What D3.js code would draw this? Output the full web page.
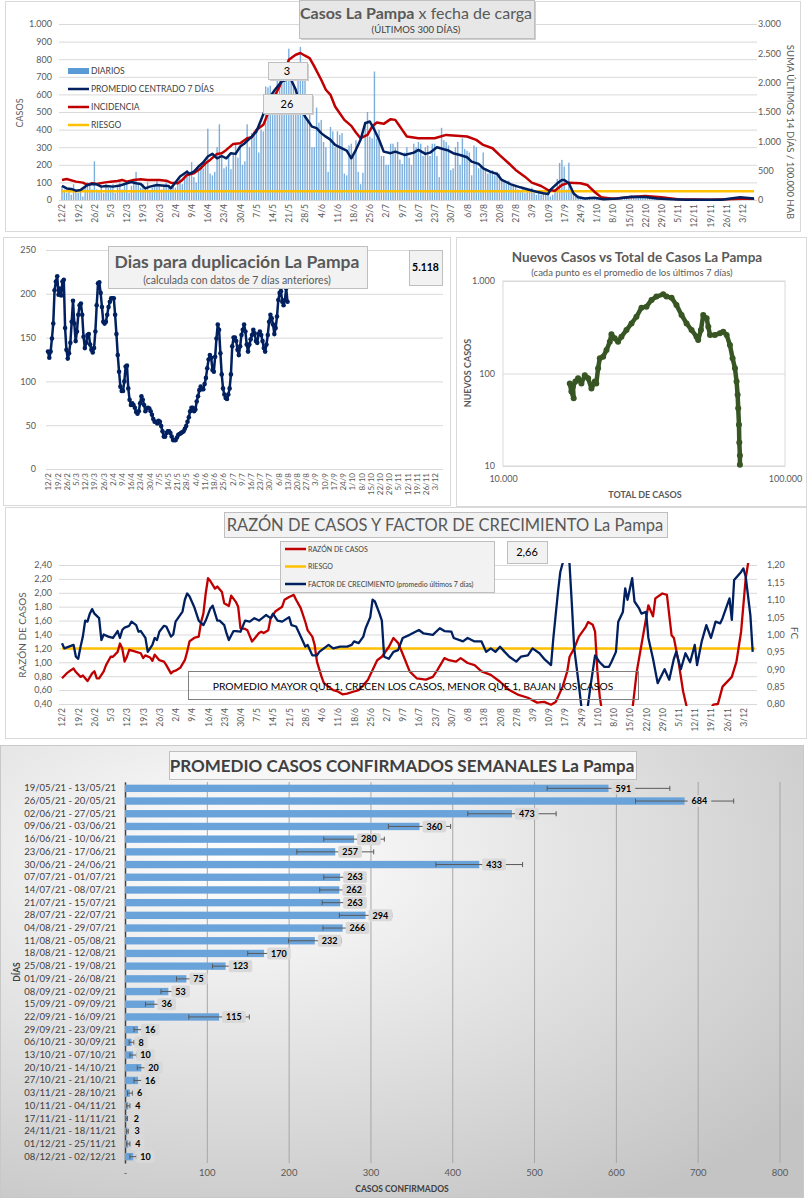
<!DOCTYPE html>
<html>
<head>
<meta charset="utf-8">
<script src="https://cdn.jsdelivr.net/npm/d3@7"></script>
<style>
body { margin: 0; background: #fff; }
svg { display: block; font-family: Lato, "Open Sans", sans-serif; }
</style>
</head>
<body>
<svg id="c"></svg>
<script>
// ---- datos compartidos ----
const ticksFecha = ["12/2","19/2","26/2","5/3","12/3","19/3","26/3","2/4","9/4","16/4","23/4","30/4","7/5","14/5","21/5","28/5","4/6","11/6","18/6","25/6","2/7","9/7","16/7","23/7","30/7","6/8","13/8","20/8","27/8","3/9","10/9","17/9","24/9","1/10","8/10","15/10","22/10","29/10","5/11","12/11","19/11","26/11","3/12"];

// casos diarios desde 12/2 (300 dias)
const diarios = [
  80,60,40,70,30,90,50, 40,60,20,70,100,80,60, 220,60,50,80,40,90,70, 70,90,40,80,100,60,90,
  110,40,80,120,160,90,70, 90,60,100,50,70,80,110, 90,60,80,100,70,50,80, 70,100,120,90,140,170,160,
  215,130,100,170,200,180,210, 405,150,140,160,300,430,250, 180,190,250,175,260,320,240, 300,200,220,430,300,380,390,
  390,270,400,390,645,640,650, 600,560,680,700,720,680,700, 860,740,650,600,770,870,700, 690,460,520,300,300,525,440,
  455,330,300,160,415,390,300, 390,370,380,150,140,310,320, 270,340,160,90,155,445,500, 360,350,730,350,400,250,250,
  200,200,320,320,300,330,230, 205,270,300,240,200,320,300, 330,320,250,300,310,250,320, 320,250,130,410,340,330,310,
  170,180,300,330,200,350,290, 280,270,140,310,300,180,200, 270,180,150,160,170,140,160, 150,110,100,90,110,80,80,
  80,60,50,70,40,50,60, 70,40,30,50,30,40,30, 40,20,30,60,120,210,228, 190,60,212,50,40,20,30,
  20,15,10,15,20,10,8, 10,5,8,6,10,12,4, 8,10,5,12,15,10,20, 20,25,15,20,18,22,20,
  18,15,20,12,16,10,8, 6,5,8,4,6,5,3, 4,3,5,2,4,3,2, 2,1,3,2,3,2,4,
  3,4,2,3,5,4,3, 4,6,5,4,8,6,10, 12,10,8,15,10,8
];

// [dia desde 12/2, casos] promedio centrado 7 dias
const promedio7 = [[0,80],[2,66],[4,63],[6,53],[8,57],[9,66],[11,85],[13,91],[15,89],[17,76],[19,80],[22,76],[25,82],[28,95],[30,102],[32,95],[34,91],[36,66],[38,76],[41,85],[43,83],[46,80],[47,66],[49,99],[51,133],[54,161],[55,148],[57,161],[59,190],[61,213],[63,247],[65,262],[67,237],[69,250],[71,237],[73,266],[75,262],[77,304],[79,323],[82,360],[84,389],[86,455],[88,522],[90,588],[92,626],[95,674],[97,683],[99,683],[101,626],[103,531],[105,474],[108,417],[110,408],[112,380],[114,360],[116,342],[118,313],[121,294],[123,281],[125,237],[127,285],[129,342],[131,436],[133,446],[135,398],[137,342],[139,275],[142,266],[144,275],[148,256],[152,269],[154,285],[157,262],[159,269],[162,300],[165,288],[167,281],[169,266],[172,256],[175,243],[177,218],[180,205],[182,180],[185,161],[188,148],[190,114],[194,89],[198,72],[201,61],[205,47],[208,38],[210,34],[211,57],[214,95],[216,114],[217,114],[219,95],[221,38],[223,15],[226,9],[230,13],[234,4],[240,8],[246,19],[252,17],[257,9],[263,4],[270,2],[278,1],[285,2],[289,9],[293,15],[299,8]];

// [dia, suma 14 dias / 100.000 hab]
const incidencia = [[0,342],[2,359],[6,313],[9,296],[11,256],[13,285],[15,273],[18,296],[21,313],[24,325],[26,342],[28,313],[31,342],[34,353],[37,342],[40,342],[42,342],[45,330],[47,296],[50,285],[52,342],[54,427],[57,455],[60,541],[62,626],[64,683],[67,786],[69,797],[71,854],[74,956],[77,968],[80,1053],[82,1070],[84,1195],[87,1281],[89,1480],[91,1708],[94,1935],[96,2163],[98,2391],[101,2476],[103,2505],[105,2459],[107,2419],[109,2277],[112,2049],[114,1879],[116,1793],[118,1594],[120,1480],[122,1366],[125,1264],[127,1150],[129,1053],[132,1110],[134,1252],[136,1321],[139,1298],[142,1378],[144,1366],[146,1252],[147,1195],[149,1082],[154,1053],[161,1053],[166,1110],[175,1082],[179,1025],[182,939],[186,882],[189,768],[193,626],[196,512],[200,398],[203,296],[207,239],[210,171],[213,159],[216,256],[219,296],[224,285],[227,256],[230,142],[233,46],[238,23],[245,46],[252,68],[259,46],[266,11],[273,8],[280,6],[287,11],[294,23],[299,23]];
const riesgoIncidencia = 150;

// dias para duplicacion, diario desde 12/2
const duplicacion = [134,127,134,149,166,204,214,220,199,206,198,214,216,161,136,126,132,144,168,192,166,146,157,176,187,189,176,151,138,144,153,154,142,136,133,138,157,187,212,213,201,185,168,166,168,176,185,191,195,195,195,176,154,130,111,94,89,89,100,117,118,92,79,73,75,73,70,65,63,66,75,83,79,73,66,69,70,69,66,62,57,54,54,52,55,54,49,43,37,37,41,43,43,41,37,33,33,33,36,39,40,41,42,43,46,49,54,59,66,70,70,66,68,77,83,90,94,91,91,97,104,115,125,130,127,113,111,128,149,165,159,132,108,92,85,81,80,85,92,108,140,150,150,146,136,130,140,153,159,165,157,142,134,142,148,153,159,155,146,144,154,157,153,146,138,134,142,153,168,176,172,165,154,161,174,193,201,203,191,187,193,206,191];

// [total de casos, nuevos casos (promedio 7 dias)]
const nuevosVsTotal = [[17250,78],[17480,64],[17810,54],[17700,72],[18060,82],[18460,89],[18970,78],[19500,96],[20040,89],[20590,69],[21160,82],[21420,78],[21740,114],[22040,146],[22650,152],[23280,179],[23920,220],[24240,265],[24900,240],[25590,220],[26300,250],[27400,295],[28550,348],[29730,411],[30980,515],[32270,528],[33630,624],[35000,678],[36980,718],[38000,678],[39600,661],[41220,550],[42970,429],[44770,348],[46640,295],[48560,250],[49220,230],[50330,295],[51290,429],[52730,395],[53460,321],[54200,261],[56430,261],[58750,272],[60390,283],[62090,261],[63780,203],[65180,146],[66460,114],[67330,82],[67920,59],[68250,42],[68670,28],[68860,18],[69200,13],[69200,10.3]];

// razon de casos [dia, razon]
const razonCasos = [[0,0.77],[2,0.84],[4,0.89],[5,0.91],[6,0.86],[8,0.79],[9,0.81],[10,0.77],[11,0.73],[13,0.84],[14,0.87],[15,0.77],[16,0.77],[18,0.87],[19,0.96],[21,1.08],[22,1.08],[24,1.15],[25,1.27],[26,1.20],[27,1.01],[28,1.08],[29,1.18],[31,1.16],[32,1.15],[34,1.13],[35,1.06],[36,1.10],[38,1.07],[39,1.02],[40,1.11],[42,1.03],[44,1.01],[45,0.96],[47,0.84],[48,0.87],[49,0.88],[51,0.92],[53,1.03],[54,1.15],[55,1.30],[57,1.35],[59,1.37],[60,1.58],[61,1.70],[62,1.99],[63,2.21],[64,2.17],[66,2.06],[67,2.09],[69,2.01],[70,1.85],[72,1.81],[73,1.96],[75,1.87],[76,1.80],[77,1.49],[79,1.48],[80,1.46],[82,1.30],[83,1.34],[85,1.42],[86,1.44],[87,1.42],[89,1.46],[90,1.63],[92,1.73],[95,1.80],[96,1.90],[98,1.94],[100,1.97],[101,1.90],[103,1.78],[105,1.58],[106,1.46],[108,1.37],[109,1.25],[110,1.01],[112,0.79],[113,0.70],[115,0.65],[117,0.60],[119,0.58],[121,0.54],[123,0.55],[126,0.58],[128,0.60],[130,0.67],[132,0.75],[134,0.89],[136,1.03],[138,1.08],[141,1.22],[143,1.35],[145,1.28],[147,1.12],[150,0.87],[153,0.77],[157,0.75],[160,0.79],[162,0.89],[165,1.06],[167,1.03],[170,1.01],[172,1.06],[175,0.99],[178,0.96],[181,0.87],[185,0.82],[189,0.72],[193,0.60],[197,0.53],[201,0.49],[205,0.42],[208,0.43],[211,0.39],[213,0.43],[216,0.65],[218,0.87],[219,1.08],[221,1.20],[223,1.37],[226,1.51],[227,1.58],[229,1.54],[230,1.44],[231,0.87],[232,0.51],[233,0.29],[240,0.10],[246,0.29],[248,0.87],[250,1.25],[252,1.63],[253,1.82],[255,1.66],[256,1.92],[259,1.99],[261,1.97],[263,1.39],[264,1.35],[266,1.01],[268,0.58],[270,0.29],[275,0.10],[281,0.39],[283,0.40],[285,0.65],[289,0.79],[291,1.01],[293,1.44],[295,2.21],[296,2.42],[298,2.66]];
const riesgoRazon = 1.2;

// factor de crecimiento (promedio ultimos 7 dias) [dia, fc]
const factorCrec = [[0,0.975],[1,0.96],[3,0.965],[5,0.97],[6,0.936],[7,0.93],[8,0.965],[9,0.994],[10,1.04],[11,1.037],[12,1.06],[13,1.073],[14,1.06],[16,1.047],[17,0.984],[18,1.0],[20,0.994],[22,0.99],[24,1.01],[25,0.99],[26,1.013],[27,1.02],[29,1.025],[30,1.037],[32,1.027],[33,1.008],[34,1.01],[36,0.99],[37,0.95],[39,0.97],[40,0.99],[41,0.984],[42,1.008],[44,1.025],[45,1.023],[47,0.994],[48,1.0],[49,1.037],[52,1.066],[53,1.10],[54,1.118],[55,1.11],[57,1.08],[59,1.04],[61,1.027],[62,1.04],[64,1.075],[65,1.083],[67,1.04],[68,1.04],[70,1.027],[71,1.003],[72,0.984],[74,1.01],[75,1.01],[77,1.008],[79,1.04],[81,1.037],[83,1.047],[85,1.04],[88,1.056],[90,1.047],[91,1.06],[93,1.04],[95,1.037],[98,1.05],[99,1.027],[101,1.023],[103,0.994],[105,0.965],[106,0.97],[108,0.94],[110,0.94],[111,0.95],[113,0.96],[115,0.97],[117,0.96],[120,0.965],[123,0.965],[125,0.97],[126,0.98],[128,0.975],[130,0.994],[131,1.018],[133,1.05],[134,1.10],[135,1.095],[137,1.06],[138,1.04],[139,0.936],[141,0.93],[143,0.95],[145,0.955],[147,0.99],[150,0.999],[154,1.013],[156,1.003],[160,0.999],[163,1.018],[165,1.01],[168,1.008],[169,0.99],[173,0.98],[175,0.99],[178,0.98],[181,0.98],[183,0.95],[185,0.96],[187,0.95],[189,0.965],[191,0.95],[193,0.936],[196,0.922],[198,0.936],[201,0.94],[203,0.96],[206,0.946],[208,0.93],[211,0.912],[212,0.99],[214,1.123],[215,1.18],[216,1.205],[218,1.30],[219,1.20],[220,1.085],[221,0.96],[223,0.855],[224,0.797],[225,0.75],[226,0.75],[228,0.85],[230,0.94],[232,0.92],[234,0.907],[236,0.907],[237,0.92],[239,0.95],[240,1.037],[242,1.065],[243,1.133],[244,1.10],[246,1.162],[247,1.095],[249,1.075],[250,1.06],[252,1.065],[253,0.99],[255,0.93],[257,0.86],[260,0.90],[262,0.87],[264,0.93],[265,0.95],[267,0.90],[269,0.946],[271,0.92],[273,0.97],[274,0.912],[276,0.98],[278,1.027],[280,0.99],[282,1.037],[284,1.032],[285,1.047],[288,1.104],[289,1.042],[290,1.157],[293,1.18],[294,1.19],[295,1.166],[297,1.056],[298,0.95]];

// promedio semanal
const semanas = ["19/05/21 - 13/05/21","26/05/21 - 20/05/21","02/06/21 - 27/05/21","09/06/21 - 03/06/21","16/06/21 - 10/06/21","23/06/21 - 17/06/21","30/06/21 - 24/06/21","07/07/21 - 01/07/21","14/07/21 - 08/07/21","21/07/21 - 15/07/21","28/07/21 - 22/07/21","04/08/21 - 29/07/21","11/08/21 - 05/08/21","18/08/21 - 12/08/21","25/08/21 - 19/08/21","01/09/21 - 26/08/21","08/09/21 - 02/09/21","15/09/21 - 09/09/21","22/09/21 - 16/09/21","29/09/21 - 23/09/21","06/10/21 - 30/09/21","13/10/21 - 07/10/21","20/10/21 - 14/10/21","27/10/21 - 21/10/21","03/11/21 - 28/10/21","10/11/21 - 04/11/21","17/11/21 - 11/11/21","24/11/21 - 18/11/21","01/12/21 - 25/11/21","08/12/21 - 02/12/21"];
const promSemanal = [591,684,473,360,280,257,433,263,262,263,294,266,232,170,123,75,53,36,115,16,8,10,20,16,6,4,2,3,4,10];
const errSemanal = [75,60,54,38,37,47,53,20,24,22,32,24,32,20,16,12,9,11,37,5,3,4,5,5,3,2,1,1,2,4];

// ---- utilidades ----
const loc = d3.formatLocale({decimal: ",", thousands: ".", grouping: [3], currency: ["$", ""]});
const fMil = loc.format(",d");
const fDec = loc.format(".2f");
const inicio = new Date(2021, 1, 12);
const fechas = d3.timeDay.range(inicio, new Date(2021, 11, 9)); // 300 dias
const fechaTick = s => { const [d, m] = s.split("/").map(Number); return new Date(2021, m - 1, d); };
const tickDates = ticksFecha.map(fechaTick);
const gris = "#595959";
const NAVY = "#002060", ROJO = "#c00000", ORO = "#ffc000";
const ultimo = fechas[fechas.length - 1];

const svg = d3.select("#c").attr("width", 808).attr("height", 1200);

function marco(x, y, w, h) {
  svg.append("rect").attr("x", x + 0.5).attr("y", y + 0.5).attr("width", w).attr("height", h)
     .attr("fill", "#fff").attr("stroke", "#d9d9d9");
}
function caja(g, x, y, w, h, fill, sombra) {
  if (sombra) g.append("rect").attr("x", x + 2).attr("y", y + 2).attr("width", w).attr("height", h).attr("fill", "#cfcfcf");
  g.append("rect").attr("x", x + 0.5).attr("y", y + 0.5).attr("width", w).attr("height", h)
   .attr("fill", fill).attr("stroke", "#bfbfbf");
}
function texto(g, x, y, s, size, opts = {}) {
  return g.append("text").attr("x", x).attr("y", y).text(s)
    .attr("font-size", size).attr("fill", opts.color || gris)
    .attr("font-weight", opts.bold ? "bold" : null)
    .attr("text-anchor", opts.anchor || "middle");
}
function textoRot(g, x, y, s, size, ang, opts = {}) {
  return g.append("text").attr("transform", `translate(${x},${y}) rotate(${ang})`)
    .attr("text-anchor", "middle").attr("dy", "0.35em").text(s)
    .attr("font-size", size).attr("fill", opts.color || gris)
    .attr("font-weight", opts.bold ? "bold" : null);
}
function ejeFechas(g, x, y, size) {
  const ax = g.append("g").attr("transform", `translate(0,${y})`)
    .call(d3.axisBottom(x).tickValues(tickDates).tickFormat((d, i) => ticksFecha[i]).tickSize(0));
  ax.select(".domain").remove();
  ax.selectAll("text").attr("transform", "rotate(-90)").attr("text-anchor", "end")
    .attr("x", -4).attr("y", 0).attr("dy", "0.35em")
    .attr("font-size", size).attr("fill", gris).attr("font-family", "Lato, sans-serif");
}
function ejeY(g, axis, x, size) {
  const ax = g.append("g").attr("transform", `translate(${x},0)`).call(axis);
  ax.select(".domain").remove();
  ax.selectAll("line").attr("stroke", "#d9d9d9");
  ax.selectAll("text").attr("font-size", size).attr("fill", gris).attr("font-family", "Lato, sans-serif");
  return ax;
}

// ================= 1. Casos La Pampa x fecha de carga =================
marco(5, 1, 795, 230);
const g1 = svg.append("g");
const x1 = d3.scaleTime().domain([fechas[0], ultimo]).range([62, 754]);
const y1 = d3.scaleLinear().domain([0, 1000]).range([200, 24]);
const y1r = d3.scaleLinear().domain([0, 3000]).range([200, 24]);
ejeY(g1, d3.axisLeft(y1).tickValues(d3.range(0, 1001, 100)).tickFormat(fMil).tickSize(-698).tickPadding(7), 59, 9);
ejeY(g1, d3.axisRight(y1r).tickValues(d3.range(0, 3001, 500)).tickFormat(fMil).tickSize(0).tickPadding(3), 755, 9);
ejeFechas(g1, x1, 200, 8.5);

g1.append("g").selectAll("rect").data(diarios).join("rect")
  .attr("x", (d, i) => x1(fechas[i]) - 0.7).attr("width", 1.4)
  .attr("y", d => y1(d)).attr("height", d => y1(0) - y1(d))
  .attr("fill", "#5b9bd5").attr("opacity", 0.8);

g1.append("line").attr("x1", x1(fechas[0])).attr("x2", x1(ultimo))
  .attr("y1", y1r(riesgoIncidencia)).attr("y2", y1r(riesgoIncidencia))
  .attr("stroke", ORO).attr("stroke-width", 2.5);
g1.append("path").datum(incidencia)
  .attr("d", d3.line().x(d => x1(fechas[d[0]])).y(d => y1r(d[1])))
  .attr("fill", "none").attr("stroke", ROJO).attr("stroke-width", 2.5).attr("stroke-linejoin", "round");
g1.append("path").datum(promedio7)
  .attr("d", d3.line().x(d => x1(fechas[d[0]])).y(d => y1(d[1])))
  .attr("fill", "none").attr("stroke", NAVY).attr("stroke-width", 2.5).attr("stroke-linejoin", "round");

// leyenda
const ley1 = [["DIARIOS", "bar"], ["PROMEDIO CENTRADO 7 DÍAS", NAVY], ["INCIDENCIA", ROJO], ["RIESGO", ORO]];
ley1.forEach((l, i) => {
  const yy = 71 + i * 18;
  if (l[1] === "bar") g1.append("rect").attr("x", 68).attr("y", yy - 3).attr("width", 21).attr("height", 6).attr("fill", "#5b9bd5");
  else g1.append("line").attr("x1", 68).attr("x2", 89).attr("y1", yy).attr("y2", yy).attr("stroke", l[1]).attr("stroke-width", 2.5);
  texto(g1, 91, yy + 3, l[0], 8.5, {anchor: "start", color: "#404040"});
});
caja(g1, 268, 62, 39, 17, "#f2f2f2", true);
texto(g1, 287, 75, "3", 11, {color: "#000"});
caja(g1, 263, 94, 49, 19, "#f2f2f2", true);
texto(g1, 287, 108, "26", 11, {color: "#000"});

caja(g1, 299, 0, 235, 38, "#e7e7e7", true);
const t1 = texto(g1, 416, 19, "", 16);
t1.append("tspan").attr("font-weight", "bold").text("Casos La Pampa");
t1.append("tspan").text(" x fecha de carga");
texto(g1, 416, 33, "(ÚLTIMOS 300 DÍAS)", 9.5, {color: "#404040"});
textoRot(g1, 20, 113, "CASOS", 9, -90);
textoRot(g1, 790, 132, "SUMA ÚLTIMOS 14 DÍAS / 100.000 HAB", 9.5, 90);

// ================= 2. Dias para duplicacion =================
marco(3, 237, 447, 268);
const g2 = svg.append("g");
const x2 = d3.scaleTime().domain([fechas[0], ultimo]).range([48, 441.5]);
const y2 = d3.scaleLinear().domain([0, 250]).range([469, 250]);
ejeY(g2, d3.axisLeft(y2).tickValues(d3.range(0, 251, 50)).tickSize(-397).tickPadding(10), 46, 9);
ejeFechas(g2, x2, 469, 8);
const linea2 = d3.line().x((d, i) => x2(fechas[i])).y(d => y2(d));
g2.append("path").datum(duplicacion).attr("d", linea2)
  .attr("fill", "none").attr("stroke", NAVY).attr("stroke-width", 2.5).attr("stroke-linejoin", "round");
g2.append("g").selectAll("circle").data(duplicacion).join("circle")
  .attr("cx", (d, i) => x2(fechas[i])).attr("cy", d => y2(d)).attr("r", 2.3).attr("fill", NAVY);
caja(g2, 108, 246, 259, 42, "#f2f2f2", false);
texto(g2, 237, 268, "Dias para duplicación La Pampa", 17.5, {bold: true});
texto(g2, 237, 284, "(calculada con datos de 7 días anteriores)", 10.5);
caja(g2, 409, 250, 33, 35, "#f2f2f2", false);
texto(g2, 425.5, 271, "5.118", 10.5, {bold: true, color: "#000"});

// ================= 3. Nuevos casos vs total =================
marco(456, 237, 350, 269);
const g3 = svg.append("g");
const x3 = d3.scaleLog().domain([10000, 100000]).range([503, 785]);
const y3 = d3.scaleLog().domain([10, 1000]).range([466, 281]);
g3.append("rect").attr("x", 503).attr("y", 281).attr("width", 282).attr("height", 185)
  .attr("fill", "none").attr("stroke", "#d9d9d9");
ejeY(g3, d3.axisLeft(y3).tickValues([10, 100, 1000]).tickFormat(fMil).tickSize(-282).tickPadding(8), 503, 9);
const ax3 = g3.append("g").attr("transform", "translate(0,466)")
  .call(d3.axisBottom(x3).tickValues([10000, 100000]).tickFormat(fMil).tickSize(0).tickPadding(10));
ax3.select(".domain").remove();
ax3.selectAll("text").attr("font-size", 9).attr("fill", gris).attr("font-family", "Lato, sans-serif");
g3.append("path").datum(nuevosVsTotal)
  .attr("d", d3.line().x(d => x3(d[0])).y(d => y3(d[1])))
  .attr("fill", "none").attr("stroke", "#375623").attr("stroke-width", 4.5).attr("stroke-linejoin", "round");
g3.append("g").selectAll("circle").data(nuevosVsTotal).join("circle")
  .attr("cx", d => x3(d[0])).attr("cy", d => y3(d[1])).attr("r", 3).attr("fill", "#375623");
texto(g3, 637, 262, "Nuevos Casos vs Total de Casos La Pampa", 13.5, {bold: true});
texto(g3, 632, 276, "(cada punto es el promedio de los últimos 7 días)", 9.5);
texto(g3, 645, 498, "TOTAL DE CASOS", 9, {bold: true});
textoRot(g3, 468, 373, "NUEVOS CASOS", 9, -90, {bold: true});

// ================= 4. Razon de casos y factor de crecimiento =================
marco(5, 507, 801, 231);
const g4 = svg.append("g");
const x4 = d3.scaleTime().domain([fechas[0], ultimo]).range([62, 755]);
const y4 = d3.scaleLinear().domain([0.4, 2.4]).range([704, 565]);
const y4r = d3.scaleLinear().domain([0.8, 1.2]).range([704, 565]);
ejeY(g4, d3.axisLeft(y4).tickValues(d3.range(0.4, 2.41, 0.2)).tickFormat(fDec).tickSize(-698).tickPadding(7), 59, 9);
ejeY(g4, d3.axisRight(y4r).tickValues(d3.range(0.8, 1.201, 0.05)).tickFormat(fDec).tickSize(0).tickPadding(10), 757, 9);
ejeFechas(g4, x4, 704, 8.5);
svg.append("clipPath").attr("id", "clip4").append("rect").attr("x", 55).attr("y", 563).attr("width", 706).attr("height", 143);
const area4 = g4.append("g").attr("clip-path", "url(#clip4)");
area4.append("line").attr("x1", x4(fechas[0])).attr("x2", x4(ultimo))
  .attr("y1", y4(riesgoRazon)).attr("y2", y4(riesgoRazon)).attr("stroke", ORO).attr("stroke-width", 2.5);
area4.append("path").datum(razonCasos)
  .attr("d", d3.line().x(d => x4(fechas[d[0]])).y(d => y4(d[1])))
  .attr("fill", "none").attr("stroke", ROJO).attr("stroke-width", 2.3).attr("stroke-linejoin", "round");
area4.append("path").datum(factorCrec)
  .attr("d", d3.line().x(d => x4(fechas[d[0]])).y(d => y4r(d[1])))
  .attr("fill", "none").attr("stroke", NAVY).attr("stroke-width", 2.3).attr("stroke-linejoin", "round");

caja(g4, 224, 512, 443, 25, "#f2f2f2", false);
texto(g4, 445, 531, "RAZÓN DE CASOS Y FACTOR DE CRECIMIENTO La Pampa", 16.5);
caja(g4, 280, 541, 214, 51, "#f2f2f2", false);
[["RAZÓN DE CASOS", ROJO], ["RIESGO", ORO], ["FACTOR DE CRECIMIENTO (promedio últimos 7 días)", NAVY]].forEach((l, i) => {
  const yy = 549 + i * 17.5;
  g4.append("line").attr("x1", 285).attr("x2", 306).attr("y1", yy).attr("y2", yy).attr("stroke", l[1]).attr("stroke-width", 2.5);
  texto(g4, 308, yy + 2.5, l[0], 7, {anchor: "start", color: "#404040"});
});
caja(g4, 507, 541, 40, 22, "#f2f2f2", false);
texto(g4, 527, 556, "2,66", 11, {color: "#000"});
g4.append("rect").attr("x", 188.5).attr("y", 671.5).attr("width", 450).attr("height", 28)
  .attr("fill", "none").attr("stroke", "#7f7f7f");
texto(g4, 413, 689.5, "PROMEDIO MAYOR QUE 1, CRECEN LOS CASOS, MENOR QUE 1, BAJAN LOS CASOS", 10.3, {color: "#000"});
textoRot(g4, 22, 635, "RAZÓN DE CASOS", 10, -90);
textoRot(g4, 794, 633, "FC", 10, 90);

// ================= 5. Promedio casos confirmados semanales =================
const defs = svg.append("defs");
const grad = defs.append("radialGradient").attr("id", "fondo").attr("cx", "30%").attr("cy", "25%").attr("r", "90%");
grad.append("stop").attr("offset", "0%").attr("stop-color", "#ffffff");
grad.append("stop").attr("offset", "100%").attr("stop-color", "#c4c4c4");
const g5 = svg.append("g");
g5.append("rect").attr("x", 0.5).attr("y", 745.5).attr("width", 803).attr("height", 452)
  .attr("fill", "url(#fondo)").attr("stroke", "#c8c8c8");
const x5 = d3.scaleLinear().domain([0, 800]).range([125, 779.5]);
const y5 = d3.scaleBand().domain(semanas).range([782, 1163]).paddingInner(0.42).paddingOuter(0.21);
const ax5 = g5.append("g").attr("transform", "translate(0,782)")
  .call(d3.axisBottom(x5).tickValues(d3.range(0, 801, 100)).tickFormat(d => d === 0 ? "-" : d).tickSize(381).tickPadding(6));
ax5.select(".domain").remove();
ax5.selectAll("line").attr("stroke", "#a6a6a6").attr("stroke-width", 1);
ax5.selectAll("text").attr("font-size", 9.5).attr("fill", gris).attr("font-family", "Lato, sans-serif");
const ay5 = g5.append("g").attr("transform", "translate(125,0)").call(d3.axisLeft(y5).tickSize(0).tickPadding(9));
ay5.select(".domain").attr("stroke", "#404040").attr("stroke-width", 1.5);
ay5.selectAll("text").attr("font-size", 9.5).attr("fill", "#404040").attr("font-family", "Lato, sans-serif");

g5.append("g").selectAll("rect").data(promSemanal).join("rect")
  .attr("x", x5(0)).attr("y", (d, i) => y5(semanas[i]))
  .attr("width", d => x5(d) - x5(0)).attr("height", y5.bandwidth())
  .attr("fill", "#6aa3d9");
const eb = g5.append("g").attr("stroke", "#595959").attr("stroke-width", 1);
promSemanal.forEach((v, i) => {
  const cy = y5(semanas[i]) + y5.bandwidth() / 2;
  const a = x5(Math.max(0, v - errSemanal[i])), b = x5(v + errSemanal[i]);
  eb.append("line").attr("x1", a).attr("x2", b).attr("y1", cy).attr("y2", cy);
  eb.append("line").attr("x1", a).attr("x2", a).attr("y1", cy - 2.5).attr("y2", cy + 2.5);
  eb.append("line").attr("x1", b).attr("x2", b).attr("y1", cy - 2.5).attr("y2", cy + 2.5);
});
promSemanal.forEach((v, i) => {
  const cy = y5(semanas[i]) + y5.bandwidth() / 2;
  const lx = x5(v) + 3;
  const r = g5.append("rect").attr("y", cy - 6).attr("height", 12).attr("rx", 2).attr("fill", "#d9d9d9");
  const t = texto(g5, 0, cy + 3.2, v, 9, {bold: true, color: "#000", anchor: "start"});
  const w = t.node().getComputedTextLength();
  r.attr("x", lx).attr("width", w + 8);
  t.attr("x", lx + 4);
});
caja(g5, 169, 751, 467, 28, "#f7f7f7", false);
texto(g5, 402, 772, "PROMEDIO CASOS CONFIRMADOS SEMANALES La Pampa", 17, {bold: true, color: "#404040"});
texto(g5, 402, 1192, "CASOS CONFIRMADOS", 8.5, {bold: true, color: "#404040"});
textoRot(g5, 17, 972, "DÍAS", 8.5, -90, {bold: true, color: "#404040"});
</script>
</body>
</html>
